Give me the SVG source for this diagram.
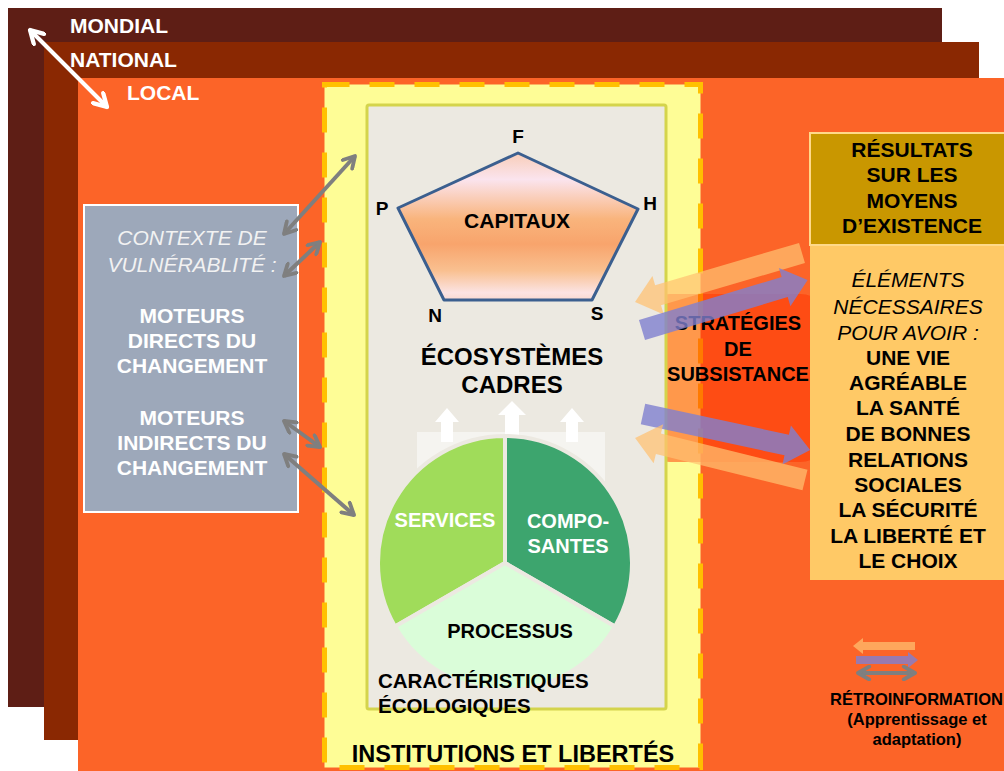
<svg xmlns="http://www.w3.org/2000/svg" width="1004" height="771" viewBox="0 0 1004 771">
<style>
text{font-family:"Liberation Sans",Arial,sans-serif}
.b{font-weight:bold}
.i{font-style:italic}
.w{fill:#ffffff}
.k{fill:#000000}
.gl{stroke:#7f7f7f;stroke-width:4;fill:none;marker-start:url(#mg);marker-end:url(#mg)}
.wl{stroke:#ffffff;stroke-width:4;fill:none;marker-start:url(#mw);marker-end:url(#mw)}
.oa{fill:#ffc070;opacity:0.72}
.pa{fill:#8080d0;opacity:0.8}
</style>
<defs>
<marker id="mg" viewBox="0 0 10 10" refX="8.5" refY="5" markerWidth="4" markerHeight="4" orient="auto-start-reverse" markerUnits="strokeWidth">
<path d="M1.5,1 L8.5,5 L1.5,9" fill="none" stroke="#7f7f7f" stroke-width="2.4" stroke-linecap="round" stroke-linejoin="round"/>
</marker>
<marker id="mw" viewBox="0 0 10 10" refX="8.5" refY="5" markerWidth="4.5" markerHeight="4.5" orient="auto-start-reverse" markerUnits="strokeWidth">
<path d="M1.5,1 L8.5,5 L1.5,9" fill="none" stroke="#ffffff" stroke-width="2.4" stroke-linecap="round" stroke-linejoin="round"/>
</marker>
<linearGradient id="pg" x1="0" y1="153" x2="0" y2="300" gradientUnits="userSpaceOnUse">
<stop offset="0" stop-color="#f8cdb8"/>
<stop offset="0.18" stop-color="#fbe4ee"/>
<stop offset="0.45" stop-color="#f9b47c"/>
<stop offset="0.62" stop-color="#f8a46c"/>
<stop offset="0.8" stop-color="#f9c090"/>
<stop offset="0.95" stop-color="#fbe3e3"/>
<stop offset="1" stop-color="#f8d8d0"/>
</linearGradient>
</defs>

<g id="layers">
<rect x="8" y="8" width="934" height="699" fill="#5e1e15"/>
<rect x="44" y="42" width="935" height="698" fill="#8a2802"/>
<rect x="78" y="78" width="926" height="693" fill="#fc6428"/>
<text class="b w" x="70" y="33" font-size="21">MONDIAL</text>
<text class="b w" x="70" y="67" font-size="21">NATIONAL</text>
<text class="b w" x="127" y="100" font-size="21">LOCAL</text>
</g>

<g id="institutions">
<rect x="324.5" y="84.5" width="376" height="683" fill="#fefd96" stroke="#ffc000" stroke-width="5" stroke-dasharray="25 20"/>
<text class="b k" x="513" y="762" font-size="23.5" text-anchor="middle">INSTITUTIONS ET LIBERTÉS</text>
</g>

<g id="strategies-zone">
<rect x="640" y="294" width="190" height="168" rx="30" fill="#ff3300" opacity="0.5"/>
</g>

<g id="ecosystemes">
<rect x="367" y="105" width="299" height="604" rx="2" fill="#ece9e1" stroke="#d4d44c" stroke-width="3"/>
</g>

<g id="capitaux">
<polygon points="518,153 638,209 592,300 444,300 398,208" fill="url(#pg)" stroke="#3b5f8f" stroke-width="3" stroke-linejoin="round"/>
<text class="b k" x="517" y="228" font-size="21" text-anchor="middle">CAPITAUX</text>
<text class="b k" x="518" y="143" font-size="19" text-anchor="middle">F</text>
<text class="b k" x="382" y="215" font-size="19" text-anchor="middle">P</text>
<text class="b k" x="650" y="210" font-size="19" text-anchor="middle">H</text>
<text class="b k" x="435" y="322" font-size="19" text-anchor="middle">N</text>
<text class="b k" x="597" y="320" font-size="19" text-anchor="middle">S</text>
</g>

<g id="ecosystemes-label">
<text class="b k" x="512" y="365" font-size="24" text-anchor="middle">ÉCOSYSTÈMES</text>
<text class="b k" x="512" y="393" font-size="24" text-anchor="middle">CADRES</text>
</g>

<g id="flux">
<rect x="417" y="432" width="188" height="58" fill="#f5f4f0"/>
<polygon points="447,408 459,422 453,422 453,442 441,442 441,422 435,422" fill="#ffffff"/>
<polygon points="512,401 526,415 519,415 519,440 505,440 505,415 498,415" fill="#ffffff"/>
<polygon points="572,408 584,422 578,422 578,442 566,442 566,422 560,422" fill="#ffffff"/>
</g>

<g id="caracteristiques">
<path d="M505,563 L505,436 A127,127 0 0 0 395,626.5 Z" fill="#a0dc5a" stroke="#ece9e1" stroke-width="4" stroke-linejoin="round"/>
<path d="M505,563 L505,436 A127,127 0 0 1 615,626.5 Z" fill="#3da56e" stroke="#ece9e1" stroke-width="4" stroke-linejoin="round"/>
<path d="M505,563 L615,626.5 A127,127 0 0 1 395,626.5 Z" fill="#dafdd9" stroke="#ece9e1" stroke-width="4" stroke-linejoin="round"/>
<text class="b w" x="445" y="527" font-size="20" text-anchor="middle">SERVICES</text>
<text class="b w" x="568" y="528" font-size="20" text-anchor="middle">COMPO-</text>
<text class="b w" x="568" y="553" font-size="20" text-anchor="middle">SANTES</text>
<text class="b k" x="510" y="638" font-size="20" text-anchor="middle">PROCESSUS</text>
<text class="b k" x="378" y="688" font-size="20.5">CARACTÉRISTIQUES</text>
<text class="b k" x="378" y="713" font-size="20.5">ÉCOLOGIQUES</text>
</g>

<g id="contexte">
<rect x="84" y="205" width="214" height="307" fill="#9da8ba" stroke="#ffffff" stroke-width="2"/>
<text class="i" x="192" y="245" font-size="21" fill="#f2f2f2" text-anchor="middle">CONTEXTE DE</text>
<text class="i" x="192" y="272" font-size="21" fill="#f2f2f2" text-anchor="middle">VULNÉRABLITÉ :</text>
<text class="b w" x="192" y="323" font-size="21" text-anchor="middle">MOTEURS</text>
<text class="b w" x="192" y="348" font-size="21" text-anchor="middle">DIRECTS DU</text>
<text class="b w" x="192" y="373" font-size="21" text-anchor="middle">CHANGEMENT</text>
<text class="b w" x="192" y="425" font-size="21" text-anchor="middle">MOTEURS</text>
<text class="b w" x="192" y="450" font-size="21" text-anchor="middle">INDIRECTS DU</text>
<text class="b w" x="192" y="475" font-size="21" text-anchor="middle">CHANGEMENT</text>
</g>

<g id="strategies">
<text class="b k" x="738" y="330" font-size="20" text-anchor="middle">STRATÉGIES</text>
<text class="b k" x="738" y="356" font-size="20" text-anchor="middle">DE</text>
<text class="b k" x="738" y="381" font-size="20" text-anchor="middle">SUBSISTANCE</text>
</g>

<g id="resultats">
<rect x="810" y="133" width="196" height="112" fill="#c99700" stroke="#ffd98a" stroke-width="2"/>
<text class="b k" x="912" y="157" font-size="21" text-anchor="middle">RÉSULTATS</text>
<text class="b k" x="912" y="182" font-size="21" text-anchor="middle">SUR LES</text>
<text class="b k" x="912" y="208" font-size="21" text-anchor="middle">MOYENS</text>
<text class="b k" x="912" y="233" font-size="21" text-anchor="middle">D’EXISTENCE</text>
</g>

<g id="elements">
<rect x="810" y="246" width="196" height="334" fill="#ffc966"/>
<text class="i k" x="908" y="287" font-size="21" text-anchor="middle">ÉLÉMENTS</text>
<text class="i k" x="908" y="314" font-size="21" text-anchor="middle">NÉCESSAIRES</text>
<text class="i k" x="908" y="340" font-size="21" text-anchor="middle">POUR AVOIR :</text>
<text class="b k" x="908" y="365" font-size="21" text-anchor="middle">UNE VIE</text>
<text class="b k" x="908" y="390" font-size="21" text-anchor="middle">AGRÉABLE</text>
<text class="b k" x="908" y="415" font-size="21" text-anchor="middle">LA SANTÉ</text>
<text class="b k" x="908" y="441" font-size="21" text-anchor="middle">DE BONNES</text>
<text class="b k" x="908" y="467" font-size="21" text-anchor="middle">RELATIONS</text>
<text class="b k" x="908" y="492" font-size="21" text-anchor="middle">SOCIALES</text>
<text class="b k" x="908" y="517" font-size="21" text-anchor="middle">LA SÉCURITÉ</text>
<text class="b k" x="908" y="543" font-size="21" text-anchor="middle">LA LIBERTÉ ET</text>
<text class="b k" x="908" y="568" font-size="21" text-anchor="middle">LE CHOIX</text>
</g>

<g id="connectors">
<line class="wl" x1="30" y1="30" x2="107" y2="107"/>
<line class="gl" x1="284" y1="234" x2="355" y2="156"/>
<line class="gl" x1="284" y1="276" x2="320" y2="242"/>
<line class="gl" x1="284" y1="421" x2="320" y2="447"/>
<line class="gl" x1="284" y1="454" x2="354" y2="515"/>
<polygon class="oa" points="0,-10.5 150,-10.5 150,-20 174,0 150,20 150,10.5 0,10.5" transform="translate(802,253) rotate(163.65)"/>
<polygon class="pa" points="0,-10.5 149,-10.5 149,-20 173,0 149,20 149,10.5 0,10.5" transform="translate(642,330) rotate(-16.76)"/>
<polygon class="pa" points="0,-10.5 147,-10.5 147,-20 171,0 147,20 147,10.5 0,10.5" transform="translate(643,414) rotate(12.17)"/>
<polygon class="oa" points="0,-10.5 151,-10.5 151,-20 175,0 151,20 151,10.5 0,10.5" transform="translate(805,480) rotate(-166.12)"/>
</g>

<g id="legende">
<polygon class="oa" points="915,642 863,642 863,638 853,646 863,654 863,650 915,650"/>
<polygon class="pa" points="856,656 908,656 908,652 918,660 908,668 908,664 856,664"/>
<line class="gl" x1="858" y1="673" x2="915" y2="673"/>
<text class="b k" x="830" y="705" font-size="16.5">RÉTROINFORMATION</text>
<text class="b k" x="917" y="725" font-size="16.5" text-anchor="middle">(Apprentissage et</text>
<text class="b k" x="917" y="745" font-size="16.5" text-anchor="middle">adaptation)</text>
</g>
</svg>
